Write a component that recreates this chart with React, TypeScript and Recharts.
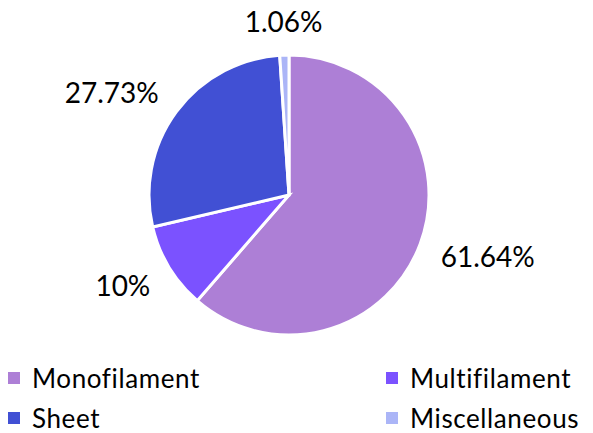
import React from "react";
import { PieChart, Pie, Cell, Legend } from "recharts";

const categories = ["Monofilament", "Multifilament", "Sheet", "Miscellaneous"];
const shares = [61.64, 10, 27.73, 1.06];
const colors = ["#AD7FD6", "#7B52FF", "#4150D4", "#ABB5F7"];

const data = categories.map((name, i) => ({ name, value: shares[i] }));

const FONT = "Lato, 'Liberation Sans', sans-serif";
const RAD = Math.PI / 180;

const renderLabel = (props: any) => {
  const { cx, cy, midAngle, outerRadius, value } = props;
  const c = Math.cos(-midAngle * RAD);
  const s = Math.sin(-midAngle * RAD);
  const x = cx + (outerRadius + 22) * c;
  const y = cy + (outerRadius + 34) * s;
  const anchor = c > 0.3 ? "start" : c < -0.3 ? "end" : "middle";
  return (
    <text
      x={x}
      y={y}
      textAnchor={anchor}
      dominantBaseline="central"
      fill="#000"
      fontFamily={FONT}
      fontSize={28}
    >
      {`${value}%`}
    </text>
  );
};

const renderLegend = () => {
  return (
    <div
      style={{
        display: "grid",
        gridTemplateColumns: "378px 215px",
        rowGap: 12,
        fontFamily: FONT,
        fontSize: 26,
        letterSpacing: 0.6,
        color: "#000",
      }}
    >
      {categories.map((name, i) => (
        <div key={name} style={{ display: "flex", alignItems: "center", height: 28 }}>
          <span
            style={{
              display: "inline-block",
              width: 12,
              height: 12,
              background: colors[i],
              marginLeft: 8,
              marginRight: 12,
            }}
          />
          <span>{name}</span>
        </div>
      ))}
    </div>
  );
};

export default function App() {
  return (
    <div style={{ position: "absolute", left: 0, top: 0, background: "#fff" }}>
      <PieChart width={593} height={433}>
        <Pie
          data={data}
          dataKey="value"
          nameKey="name"
          cx={284}
          cy={190}
          outerRadius={140}
          startAngle={90}
          endAngle={-270}
          stroke="#fff"
          strokeWidth={3}
          label={renderLabel}
          labelLine={false}
          isAnimationActive={false}
        >
          {data.map((d, i) => (
            <Cell key={d.name} fill={colors[i]} />
          ))}
        </Pie>
        <Legend
          content={renderLegend}
          wrapperStyle={{ left: 0, top: 364, width: 593 }}
        />
      </PieChart>
    </div>
  );
}
